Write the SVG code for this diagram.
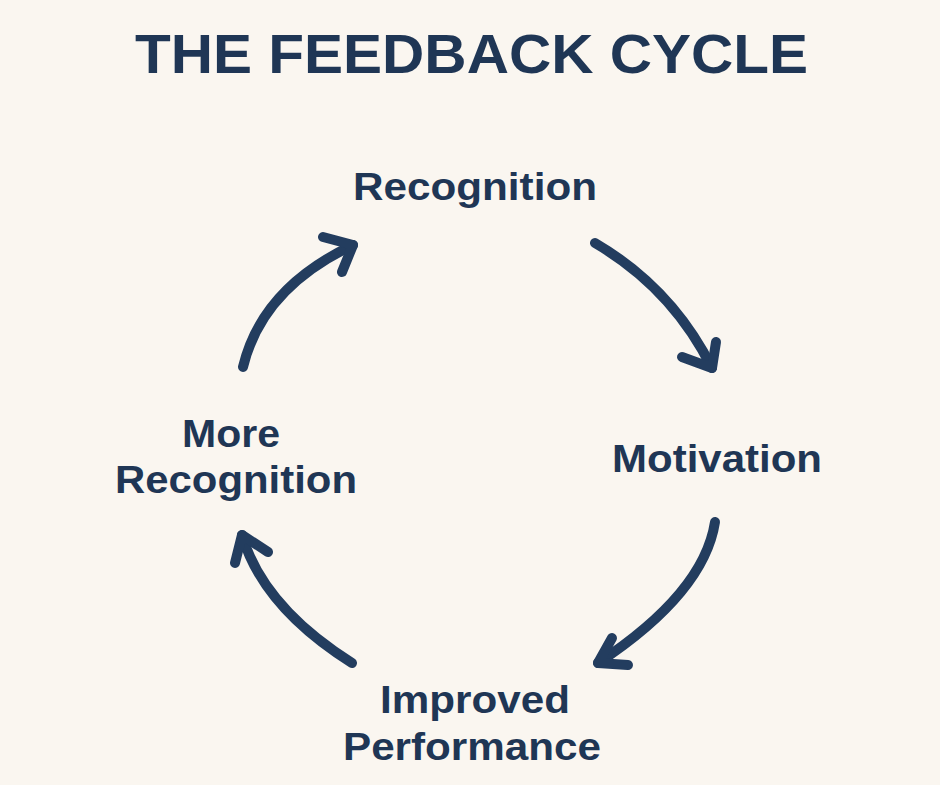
<svg xmlns="http://www.w3.org/2000/svg" width="940" height="785" viewBox="0 0 940 785">
  <style>
    .t { font-family: "Liberation Sans", Arial, sans-serif; font-weight: 700; fill: #1f3655; }
    .title { font-size: 56px; }
    .lbl { font-size: 39px; text-anchor: middle; }
    .arr { fill: none; stroke: #233d5f; stroke-width: 10; stroke-linecap: round; stroke-linejoin: round; }
  </style>
  <rect width="940" height="785" fill="#faf6f0"/>
  <g id="title">
    <text class="t title" x="135" y="73" textLength="673" lengthAdjust="spacingAndGlyphs">THE FEEDBACK CYCLE</text>
  </g>
  <g id="recognition">
    <text class="t lbl" x="475" y="200" textLength="244" lengthAdjust="spacingAndGlyphs">Recognition</text>
  </g>
  <g id="motivation">
    <text class="t lbl" x="717" y="472" textLength="210" lengthAdjust="spacingAndGlyphs">Motivation</text>
  </g>
  <g id="improved-performance">
    <text class="t lbl" x="475" y="713" textLength="190" lengthAdjust="spacingAndGlyphs">Improved</text>
    <text class="t lbl" x="472" y="760" textLength="258" lengthAdjust="spacingAndGlyphs">Performance</text>
  </g>
  <g id="more-recognition">
    <text class="t lbl" x="231" y="447" textLength="98" lengthAdjust="spacingAndGlyphs">More</text>
    <text class="t lbl" x="236" y="493" textLength="242" lengthAdjust="spacingAndGlyphs">Recognition</text>
  </g>
  <g id="connectors">
    <path class="arr" d="M243,367 Q262,288 353,245"/>
    <path class="arr" d="M323,237 L353,245 L342,272"/>
    <path class="arr" d="M595,243 Q672,288 712,368"/>
    <path class="arr" d="M682,357 L712,368 L716,342"/>
    <path class="arr" d="M715,522 Q704,593 598,663"/>
    <path class="arr" d="M612,638 L598,663 L628,665"/>
    <path class="arr" d="M352,663 Q263,607 242,535"/>
    <path class="arr" d="M235,563 L242,535 L268,552"/>
  </g>
</svg>
